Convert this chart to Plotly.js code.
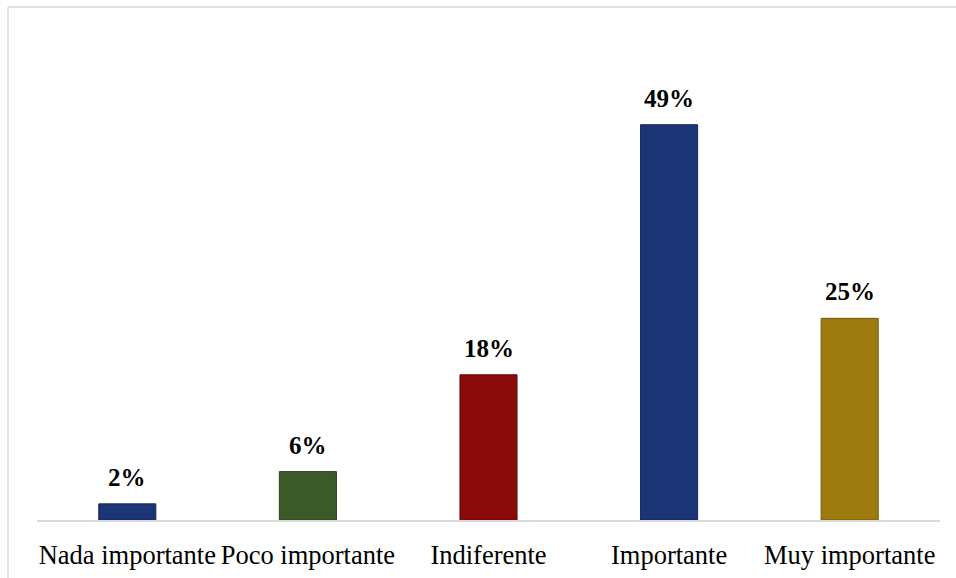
<!DOCTYPE html>
<html><head><meta charset="utf-8">
<script src="https://cdn.plot.ly/plotly-3.0.1.min.js"></script>
<style>html,body{margin:0;padding:0;background:#fff;}#chart{width:956px;height:578px;}</style>
</head><body><div id="chart"></div>
<script>
const categories = ["Nada importante", "Poco importante", "Indiferente", "Importante", "Muy importante"];
const values = [2, 6, 18, 49, 25];
const labels = ["2%", "6%", "18%", "49%", "25%"];
const colors = ["#1c3577", "#3b5a28", "#8b0b0b", "#1c3577", "#9c7a0e"];
const lineColors = ["#132656", "#2a421c", "#5e0606", "#132656", "#735a08"];
const FONT = "Liberation Serif";

const trace = {
  type: 'bar', x: categories, y: values,
  marker: {color: colors, line: {color: lineColors, width: 1}},
  hoverinfo: 'none'
};
const annotations = categories.map((c, i) => ({
  x: c, y: values[i], xref: 'x', yref: 'y', text: '<b>' + labels[i] + '</b>',
  showarrow: false, yanchor: 'bottom', yshift: 11,
  font: {family: FONT, size: 25, color: '#000'}
}));
const layout = {
  width: 956, height: 578,
  margin: {l: 37, r: 16, t: 36, b: 58},
  paper_bgcolor: '#fff', plot_bgcolor: '#fff',
  bargap: 0.684,
  showlegend: false,
  font: {family: FONT},
  xaxis: {
    showline: true, linecolor: '#d9d9d9', linewidth: 2, ticks: '', showgrid: false, zeroline: false,
    tickfont: {family: FONT, size: 26.5, color: '#000'},
    ticklabelstandoff: 10
  },
  yaxis: {range: [0, 60], visible: false, showgrid: false, zeroline: false},
  annotations: annotations,
  shapes: [
    {type: 'line', xref: 'paper', yref: 'paper', x0: -0.0321, x1: -0.0321, y0: 1.06, y1: -0.13, line: {color: '#d9d9d9', width: 1.5}},
    {type: 'line', xref: 'paper', yref: 'paper', x0: -0.0321, x1: 1.02, y0: 1.06, y1: 1.06, line: {color: '#d9d9d9', width: 1.5}}
  ]
};
Plotly.newPlot('chart', [trace], layout, {displayModeBar: false, staticPlot: true});
</script></body></html>
